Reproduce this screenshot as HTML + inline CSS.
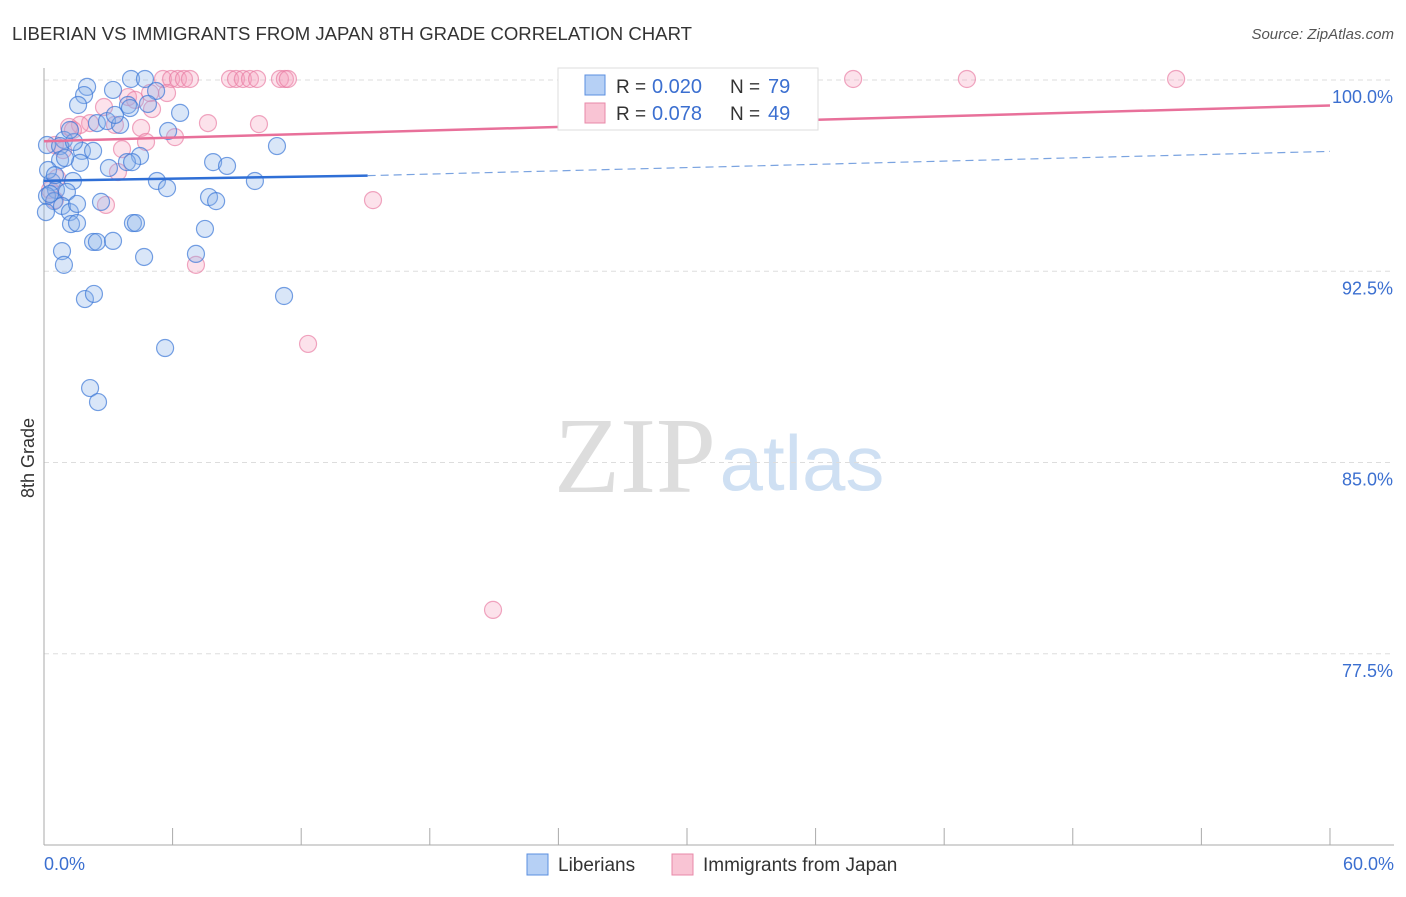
<!DOCTYPE html>
<html><head><meta charset="utf-8"><style>
body{margin:0;background:#fff;font-family:"Liberation Sans",sans-serif;}
</style></head><body>
<svg width="1406" height="892" xmlns="http://www.w3.org/2000/svg">
<text x="12" y="40" font-size="18" fill="#333" textLength="680" lengthAdjust="spacingAndGlyphs">LIBERIAN VS IMMIGRANTS FROM JAPAN 8TH GRADE CORRELATION CHART</text>
<text x="1394" y="39" font-size="15" fill="#555" font-style="italic" text-anchor="end">Source: ZipAtlas.com</text>
<text x="635" y="492" font-size="108" fill="#ddd" font-family="Liberation Serif,serif" text-anchor="middle">ZIP</text>
<text x="802" y="490" font-size="78" fill="#cfe0f3" text-anchor="middle">atlas</text>
<g id="grid"></g><g id="axes"></g><g id="pts"></g><g id="lines"></g>
<text x="34" y="458" font-size="18" fill="#333" transform="rotate(-90 34 458)" text-anchor="middle">8th Grade</text>
<text x="44" y="870" font-size="18" fill="#3b6fd0">0.0%</text>
<text x="1394" y="870" font-size="18" fill="#3b6fd0" text-anchor="end">60.0%</text>
<g>
<rect x="558" y="68" width="260" height="62" fill="#fff" stroke="#ddd"/>
<rect x="585" y="75" width="20" height="20" fill="#b6d0f5" stroke="#5b8fe0"/>
<rect x="585" y="103" width="20" height="20" fill="#f9c4d4" stroke="#e889a8"/>
<text x="616" y="93" font-size="19" fill="#333">R =</text><text x="652" y="93" font-size="20" fill="#3b6fd0">0.020</text>
<text x="730" y="93" font-size="19" fill="#333">N =</text><text x="768" y="93" font-size="20" fill="#3b6fd0">79</text>
<text x="616" y="120" font-size="19" fill="#333">R =</text><text x="652" y="120" font-size="20" fill="#3b6fd0">0.078</text>
<text x="730" y="120" font-size="19" fill="#333">N =</text><text x="768" y="120" font-size="20" fill="#3b6fd0">49</text>
</g>
<g>
<rect x="527" y="854" width="21" height="21" fill="#b6d0f5" stroke="#5b8fe0"/>
<text x="558" y="871" font-size="19" fill="#333">Liberians</text>
<rect x="672" y="854" width="21" height="21" fill="#f9c4d4" stroke="#e889a8"/>
<text x="703" y="871" font-size="19" fill="#333">Immigrants from Japan</text>
</g>
</svg>
<script>
const yTicks=[100,92.5,85,77.5];
const yTickLabels=["100.0%","92.5%","85.0%","77.5%"];
const bluePx=[[131,79],[145,79],[87,87],[84,95],[113,90],[156,91],[78,105],[128,105],[148,104],[180,113],[97,123],[107,121],[120,125],[168,131],[64,140],[47,145],[60,146],[82,151],[93,151],[74,142],[277,146],[140,156],[80,163],[109,168],[127,162],[132,162],[213,162],[227,166],[157,181],[167,188],[255,181],[73,181],[52,182],[56,190],[47,196],[67,192],[54,201],[46,212],[62,206],[70,212],[71,224],[77,223],[101,202],[77,204],[209,197],[216,201],[133,223],[136,223],[205,229],[196,254],[93,242],[97,242],[113,241],[144,257],[62,251],[64,265],[85,299],[94,294],[284,296],[165,348],[90,388],[98,402],[50,194],[60,160],[48,170],[55,175],[65,158],[70,130],[115,115],[130,108]];
const pinkPx=[[163,79],[171,79],[178,79],[184,79],[190,79],[230,79],[236,79],[243,79],[250,79],[257,79],[280,79],[285,79],[288,79],[657,79],[722,79],[853,79],[967,79],[1176,79],[128,97],[150,93],[167,93],[104,107],[152,109],[135,100],[90,123],[80,125],[69,127],[141,128],[208,123],[259,124],[175,137],[146,142],[122,149],[55,145],[63,150],[118,172],[57,178],[106,205],[373,200],[196,265],[308,344],[493,610],[50,190],[73,130],[115,125],[55,200]];
const toX=p=>+((p-44)/21.433).toFixed(2), toY=p=>+(100-(p-80)/25.5).toFixed(2);
const blueX=bluePx.map(p=>toX(p[0])), blueY=bluePx.map(p=>toY(p[1]));
const pinkX=pinkPx.map(p=>toX(p[0])), pinkY=pinkPx.map(p=>toY(p[1]));
const blueTrend=[96.05,96.25,97.2];
const pinkTrend=[97.6,99.0];
const X=v=>44+v*21.433, Y=v=>80+(100-v)*25.5;
const NS="http://www.w3.org/2000/svg";
function mk(t,a,parent){const e=document.createElementNS(NS,t);for(const k in a)e.setAttribute(k,a[k]);document.getElementById(parent).appendChild(e);return e;}
yTicks.forEach((t,i)=>{
 const l=mk('line',{x1:44,x2:1394,y1:Y(t),y2:Y(t),stroke:'#ddd','stroke-dasharray':'5,4'},'grid');
 
 
 const tx=mk('text',{x:1393,y:Y(t)+23,'font-size':18,fill:'#3b6fd0','text-anchor':'end'},'grid');
 tx.textContent=yTickLabels[i];
 
 
});
let ax=mk('line',{x1:44,x2:44,y1:68,y2:845,stroke:'#aaa'},'axes');


ax=mk('line',{x1:44,x2:1394,y1:845,y2:845,stroke:'#aaa'},'axes');


for(let i=1;i<=10;i++){const t=mk('line',{x1:X(i*6),x2:X(i*6),y1:828,y2:845,stroke:'#aaa'},'axes');
 
 }
pinkX.forEach((x,i)=>{const c=mk('circle',{cx:X(x),cy:Y(pinkY[i]),r:8.5,fill:'rgba(244,160,188,0.3)',stroke:'rgba(232,120,160,0.65)','stroke-width':1.2},'pts');
 
 });
blueX.forEach((x,i)=>{const c=mk('circle',{cx:X(x),cy:Y(blueY[i]),r:8.5,fill:'rgba(140,180,235,0.33)',stroke:'rgba(60,120,215,0.7)','stroke-width':1.2},'pts');
 
 });
let l=mk('line',{x1:X(0),y1:Y(blueTrend[0]),x2:X(15.1),y2:Y(blueTrend[1]),stroke:'#2f6fd6','stroke-width':2.5},'lines');


l=mk('line',{x1:X(15.1),y1:Y(blueTrend[1]),x2:X(60),y2:Y(blueTrend[2]),stroke:'#7aa3e0','stroke-width':1.2,'stroke-dasharray':'8,5'},'lines');


l=mk('line',{x1:X(0),y1:Y(pinkTrend[0]),x2:X(60),y2:Y(pinkTrend[1]),stroke:'#e8709a','stroke-width':2.5},'lines');


</script>
</body></html>
